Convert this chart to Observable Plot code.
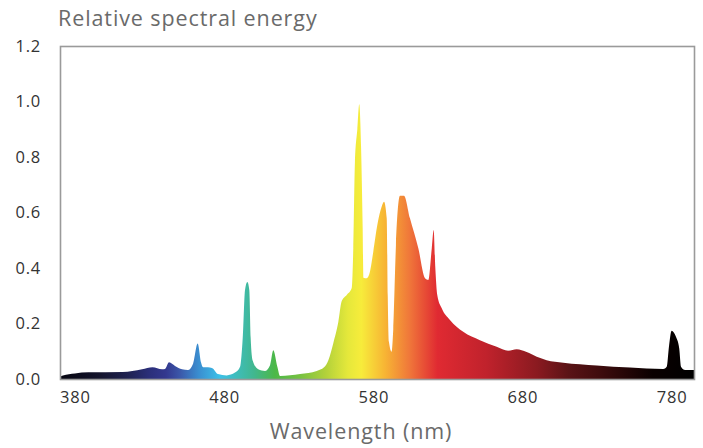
<!DOCTYPE html>
<html>
<head>
<meta charset="utf-8">
<script src="https://cdn.jsdelivr.net/npm/d3@7"></script>
<script src="https://cdn.jsdelivr.net/npm/@observablehq/plot@0.6"></script>
<style>
  body { margin: 0; background: #fff; }
  #wrap { position: relative; width: 703px; height: 448px; font-family: "Open Sans", sans-serif; }
  #title { position: absolute; left: 58px; top: 3px; font-size: 21.5px; color: #6a6a6a; letter-spacing: 0.9px; }
  #xlabel { position: absolute; left: 0; width: 722px; text-align: center; top: 416px; font-size: 21.5px; color: #6a6a6a; letter-spacing: 0.9px; }
  svg { position: absolute; left: 0; top: 0; }
</style>
</head>
<body>
<div id="wrap">
  <div id="chart"></div>
  <div id="title">Relative spectral energy</div>
  <div id="xlabel">Wavelength (nm)</div>
</div>
<script>
const wavelength = [370, 372, 380, 389, 412, 425, 432, 438.4, 440.4, 443.1, 447.1, 451.8, 455.8, 459.2, 462.3, 464.5, 465.9, 469.2, 471.9, 475.9, 481.7, 487.3, 490.7, 492.5, 494.0, 495.6, 496.9, 497.8, 499.2, 502.9, 507.4, 510.8, 513.0, 515.7, 517.5, 530.9, 542.1, 547.0, 549.9, 553.2, 556.6, 558.8, 562.2, 565.5, 566.6, 567.7, 569.3, 570.6, 571.8, 572.9, 573.4, 575.6, 577.8, 580.0, 582.7, 585.6, 587.2, 589.0, 589.7, 590.5, 592.3, 593.4, 595.2, 597.9, 600.6, 604.6, 610.2, 614.7, 616.9, 619.2, 620.5, 621.6, 622.9, 625.9, 631.4, 640.3, 651.5, 662.7, 670.5, 676.1, 682.8, 689.6, 696.2, 707.4, 729.8, 752.1, 774.4, 776.7, 778.2, 780.0, 782.9, 785.1, 786.3, 789.0, 795.0];
const energy = [0.008, 0.013, 0.02, 0.024, 0.025, 0.035, 0.042, 0.035, 0.036, 0.06, 0.047, 0.035, 0.032, 0.055, 0.128, 0.06, 0.042, 0.042, 0.04, 0.018, 0.013, 0.023, 0.044, 0.15, 0.32, 0.35, 0.32, 0.15, 0.066, 0.035, 0.029, 0.05, 0.104, 0.044, 0.011, 0.018, 0.029, 0.042, 0.068, 0.129, 0.206, 0.28, 0.303, 0.327, 0.47, 0.78, 0.90, 0.99, 0.84, 0.54, 0.365, 0.363, 0.387, 0.459, 0.555, 0.621, 0.639, 0.579, 0.30, 0.134, 0.098, 0.18, 0.483, 0.66, 0.66, 0.579, 0.471, 0.363, 0.357, 0.47, 0.537, 0.40, 0.303, 0.255, 0.213, 0.17, 0.14, 0.116, 0.102, 0.107, 0.097, 0.08, 0.068, 0.059, 0.049, 0.041, 0.036, 0.044, 0.116, 0.174, 0.152, 0.11, 0.044, 0.032, 0.032];

const stopWavelength = [370, 397, 415, 430, 441, 450, 463, 477, 490, 500, 514, 530, 548, 563, 572, 588, 604, 623, 656, 690, 711, 731, 767, 795];
const stopColor = ["#050510", "#15152e", "#1f2250", "#2b2f7a", "#33388f", "#3b56a8", "#3a8ed0", "#3cc0e8", "#3fbcb4", "#41b78f", "#4cb848", "#74c141", "#b2d13a", "#e5e83b", "#f7ec3b", "#f7b434", "#f0783a", "#e02a32", "#c0222c", "#8a1a20", "#5a1316", "#400c0e", "#0a0000", "#000000"];

const xTicks = [380, 480, 580, 680, 780];
const yTicks = [0, 0.2, 0.4, 0.6, 0.8, 1.0, 1.2];
const xDomain = [370, 795];
const yDomain = [0, 1.2];

const data = wavelength.map((w, i) => ({w, e: energy[i]}));

const gradient = () => {
  const defs = d3.create("svg:defs");
  const g = defs.append("linearGradient")
    .attr("id", "spectrum")
    .attr("x1", 0).attr("x2", 1).attr("y1", 0).attr("y2", 0);
  stopWavelength.forEach((w, i) => {
    g.append("stop")
      .attr("offset", (w - xDomain[0]) / (xDomain[1] - xDomain[0]))
      .attr("stop-color", stopColor[i]);
  });
  return defs.node();
};

const chart = Plot.plot({
  width: 703,
  height: 448,
  marginLeft: 60,
  marginRight: 9,
  marginTop: 46,
  marginBottom: 69,
  style: {fontFamily: "Open Sans, sans-serif", fontSize: "16.5px", letterSpacing: "0.8px", color: "#333", background: "transparent"},
  x: {domain: xDomain},
  y: {domain: yDomain},
  marks: [
    gradient,
    Plot.areaY(data, {x: "w", y: "e", fill: "url(#spectrum)", curve: "monotone-x"}),
    Plot.axisY(yTicks, {tickSize: 0, tickPadding: 45, textAnchor: "start", tickFormat: d3.format(".1f"), label: null, fill: "#333"}),
    Plot.axisX(xTicks, {tickSize: 0, tickPadding: 12, tickFormat: d => String(d), label: null, fill: "#333"}),
    Plot.frame({stroke: "#9a9a9a", strokeWidth: 1.6})
  ]
});
document.getElementById("chart").appendChild(chart);
</script>
</body>
</html>
